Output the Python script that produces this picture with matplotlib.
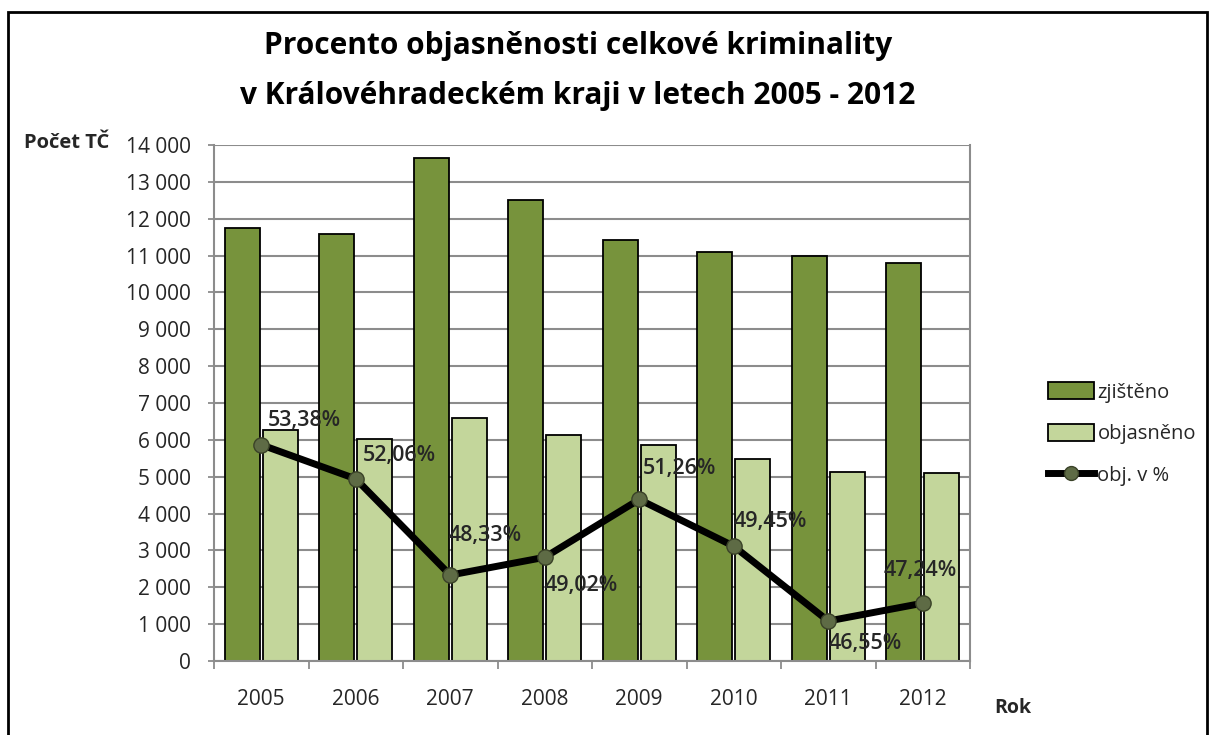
import matplotlib
matplotlib.use("Agg")
import matplotlib.pyplot as plt
from matplotlib.patches import Rectangle
from matplotlib.lines import Line2D
import matplotlib.ticker as mticker

years = ["2005", "2006", "2007", "2008", "2009", "2010", "2011", "2012"]
zjisteno = [11740, 11580, 13640, 12500, 11410, 11110, 11000, 10790]
objasneno = [6270, 6030, 6590, 6130, 5850, 5490, 5120, 5100]
obj_pct = [53.38, 52.06, 48.33, 49.02, 51.26, 49.45, 46.55, 47.24]
pct_labels = ["53,38%", "52,06%", "48,33%", "49,02%", "51,26%", "49,45%", "46,55%", "47,24%"]

title_text = "Procento objasněnosti celkové kriminality\nv Královéhradeckém kraji v letech 2005 - 2012"

FONT = ["Open Sans", "DejaVu Sans"]
plt.rcParams["font.family"] = FONT

dark = "#77933C"
light = "#C3D69B"
marker_c = "#5E6B45"
grid_c = "#8C8C8C"
text_c = "#262626"

fig = plt.figure(figsize=(12.10, 7.35), dpi=100)
ax = fig.add_axes([214 / 1210, 1 - 661 / 735, 756 / 1210, 516 / 735])

x = list(range(len(years)))
w = 0.37
off = 0.2
ax.bar([i - off for i in x], zjisteno, width=w, color=dark, edgecolor="black", linewidth=1.3, zorder=2)
ax.bar([i + off for i in x], objasneno, width=w, color=light, edgecolor="black", linewidth=1.3, zorder=2)

ax.set_xlim(-0.5, len(years) - 0.5)
ax.set_ylim(0, 14000)
ax.set_yticks(range(0, 14001, 1000))
ax.yaxis.set_major_formatter(mticker.FuncFormatter(lambda v, p: f"{int(v):,}".replace(",", " ")))
ax.yaxis.grid(True, color=grid_c, linewidth=1.5, zorder=0)
ax.set_axisbelow(True)
ax.set_xticks(x)
ax.set_xticklabels(years)
ax.set_xticks([i - 0.5 for i in range(len(years) + 1)], minor=True)
ax.tick_params(axis="x", which="major", length=0, pad=20, labelsize=15, labelcolor=text_c)
ax.tick_params(axis="x", which="minor", length=6, color=grid_c, width=1.3)
ax.tick_params(axis="y", length=4.5, color=grid_c, width=1.3, labelsize=15, labelcolor=text_c, pad=12)
for s in ["left", "bottom", "right"]:
    ax.spines[s].set_color(grid_c)
    ax.spines[s].set_linewidth(1.5)
ax.spines["top"].set_visible(False)

ax2 = ax.twinx()
ax2.set_ylim(45, 65)
ax2.plot(x, obj_pct, color="black", linewidth=5, marker="o", markersize=11,
         markerfacecolor=marker_c, markeredgecolor="#3A4228", markeredgewidth=1, zorder=5)
ax2.set_yticks([])
for s in ax2.spines.values():
    s.set_visible(False)

label_offsets = [(7, 24), (7, 23), (-2, 40), (0, -28), (4, 31), (0, 25), (0, -22), (-39, 33)]
for i, (v, lab) in enumerate(zip(obj_pct, pct_labels)):
    dx, dy = label_offsets[i]
    ax2.annotate(lab, (i, v), xytext=(dx, dy), textcoords="offset pixels",
                 ha="left", va="center", fontsize=15.5, fontweight="semibold", color=text_c, zorder=6)

fig.text(578 / 1210, 1 - 71 / 735, title_text, ha="center", va="center", fontsize=21.5,
         fontweight="bold", color="black", linespacing=1.85)
fig.text(24 / 1210, 1 - 143 / 735, "Počet TČ", ha="left", va="center", fontsize=14.5,
         fontweight="bold", color=text_c)
fig.text(994 / 1210, 1 - 708 / 735, "Rok", ha="left", va="center", fontsize=14,
         fontweight="bold", color=text_c)

handles = [Rectangle((0, 0), 1, 1, facecolor=dark, edgecolor="black", linewidth=1.3),
           Rectangle((0, 0), 1, 1, facecolor=light, edgecolor="black", linewidth=1.3),
           Line2D([0], [0], color="black", linewidth=5, marker="o", markersize=10,
                  markerfacecolor=marker_c, markeredgecolor="#3A4228")]
fig.legend(handles, ["zjištěno", "objasněno", "obj. v %"], loc="center left",
           bbox_to_anchor=(1030 / 1210, 1 - 434 / 735), frameon=False, fontsize=14.5,
           handlelength=2.3, handleheight=0.9, handletextpad=0.15, labelspacing=1.05,
           labelcolor=text_c)

fig.add_artist(Rectangle((8 / 1210, -0.05), 1199 / 1210, 1.05 - 12 / 735, transform=fig.transFigure,
                         fill=False, edgecolor="black", linewidth=2))

fig.savefig("out.png", dpi=100)
